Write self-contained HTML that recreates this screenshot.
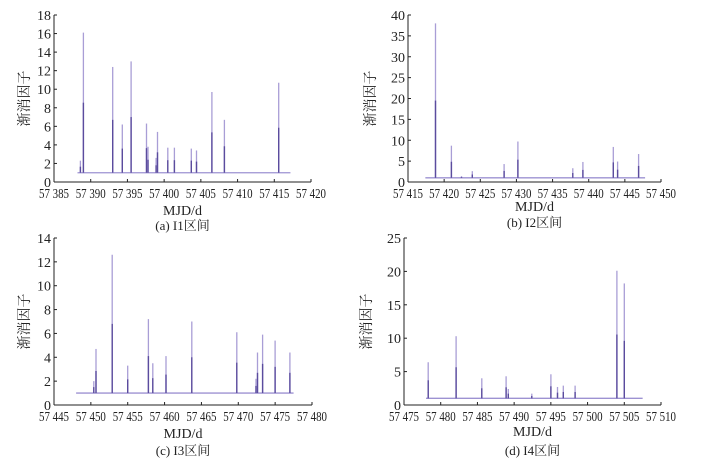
<!DOCTYPE html>
<html><head><meta charset="utf-8"><style>
body{margin:0;background:#fff;}
svg{display:block;}
text{font-family:"Liberation Serif","Noto Serif CJK SC",serif;fill:#222;}
</style></head><body>
<svg id="s" width="713" height="464" xmlns="http://www.w3.org/2000/svg"></svg>
<script>
const P=[
{ax:54,y0:182,ytop:15,ymax:18,ystep:2,x0:57385,x1:57420,xr:311,bl:[57388.2,57417.2],cap:"(a) I1区间",my:215,cy:230,
 s:[[57388.6,2.3],[57389.0,16.1],[57393.0,12.4],[57394.3,6.2],[57395.5,13],[57397.6,6.3],[57397.8,3.8],[57398.9,2.6],[57399.1,5.4],[57400.5,3.7],[57401.4,3.7],[57403.7,3.6],[57404.4,3.4],[57406.5,9.7],[57408.2,6.7],[57415.6,10.7]]},
{ax:408,y0:182,ytop:15,ymax:40,ystep:5,x0:57415,x1:57450,xr:661,bl:[57417.4,57447.8],cap:"(b) I2区间",my:211,cy:227,
 s:[[57418.8,38],[57421,8.7],[57422.4,1.4],[57423.9,2.6],[57428.3,4.3],[57430.2,9.7],[57437.8,3.3],[57439.2,4.8],[57443.4,8.4],[57444,4.9],[57446.9,6.7]]},
{ax:54,y0:405,ytop:238,ymax:14,ystep:2,x0:57445,x1:57480,xr:312,bl:[57448,57477.5],cap:"(c) I3区间",my:438,cy:455,
 s:[[57450.4,2],[57450.7,4.7],[57452.9,12.6],[57455,3.3],[57457.8,7.2],[57458.4,3.5],[57460.2,4.1],[57463.7,7],[57469.8,6.1],[57472.4,2.2],[57472.6,4.4],[57473.3,5.9],[57475,5.4],[57477,4.4]]},
{ax:404,y0:405,ytop:238,ymax:25,ystep:5,x0:57475,x1:57510,xr:661,bl:[57478,57507.5],cap:"(d) I4区间",my:436,cy:455,
 s:[[57478.3,6.4],[57482.1,10.3],[57485.6,4],[57488.9,4.3],[57489.2,2.4],[57492.4,1.7],[57495,4.6],[57495.9,2.7],[57496.7,2.9],[57498.3,2.9],[57504,20.1],[57505,18.2]]}
];
let h='';
for(const p of P){
 const X=v=>p.ax+(v-p.x0)*(p.xr-p.ax)/(p.x1-p.x0);
 const Y=v=>p.y0-v*(p.y0-p.ytop)/p.ymax;
 h+=`<line x1="${X(p.bl[0])}" x2="${X(p.bl[1])}" y1="${Y(1)}" y2="${Y(1)}" stroke="#9d92d2" stroke-width="1.3"/>`;
 for(const [d,v] of p.s){
  const x=X(d).toFixed(1);
  h+=`<line x1="${x}" x2="${x}" y1="${Y(1)}" y2="${Y(v)}" stroke="#a99ed6" stroke-width="1.3"/>`;
  h+=`<line x1="${x}" x2="${x}" y1="${Y(1)}" y2="${Y(1+(v-1)*0.5)}" stroke="#5b4c9e" stroke-width="1.4"/>`;
 }
 h+=`<line x1="${p.ax}" x2="${p.ax}" y1="${p.ytop}" y2="${p.y0}" stroke="#222" stroke-width="1"/>`;
 h+=`<line x1="${p.ax}" x2="${p.xr}" y1="${p.y0}" y2="${p.y0}" stroke="#222" stroke-width="1"/>`;
 for(let v=0;v<=p.ymax+1e-9;v+=p.ystep){
  const y=Y(v);
  h+=`<line x1="${p.ax}" x2="${p.ax+3}" y1="${y}" y2="${y}" stroke="#222"/>`;
  h+=`<text x="${p.ax-3}" y="${y+5}" font-size="14" text-anchor="end">${v}</text>`;
 }
 for(let v=p.x0;v<=p.x1;v+=5){
  const x=X(v);
  h+=`<line x1="${x}" x2="${x}" y1="${p.y0}" y2="${p.y0-3}" stroke="#222"/>`;
  h+=`<text x="${x-15}" y="${p.y0+16}" font-size="14" textLength="30" lengthAdjust="spacingAndGlyphs">${String(v).slice(0,2)} ${String(v).slice(2)}</text>`;
 }
 const yc=(p.y0+p.ytop)/2;
 const lx=p.ax-(p.ymax>=20?38:30);
 h+=`<text x="${lx}" y="${yc}" font-size="14" text-anchor="middle" transform="rotate(-90 ${lx} ${yc})" dy="5" fill="#444">渐消因子</text>`;
 const cx=(p.ax+p.xr)/2;
 h+=`<text x="${cx}" y="${p.my}" font-size="14" text-anchor="middle">MJD/d</text>`;
 h+=`<text x="${cx}" y="${p.cy}" font-size="13" text-anchor="middle">${p.cap}</text>`;
}
document.getElementById('s').innerHTML=h;
</script>
</body></html>
